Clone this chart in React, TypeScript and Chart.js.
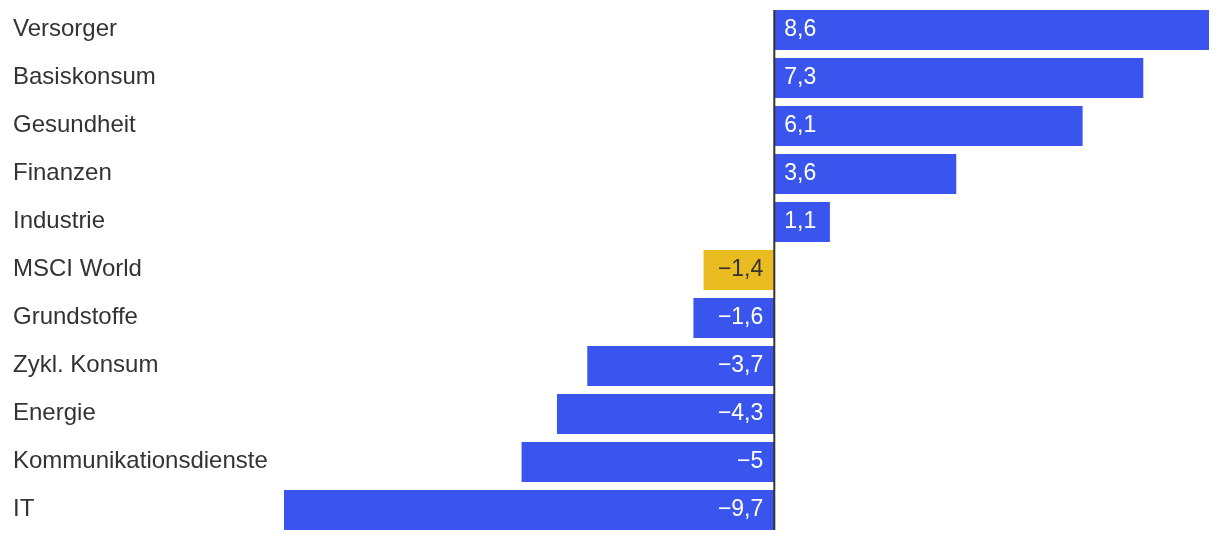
import React, { useEffect, useRef } from "react";
import { Chart, registerables } from "chart.js";

Chart.register(...registerables);

const categories = [
  "Versorger",
  "Basiskonsum",
  "Gesundheit",
  "Finanzen",
  "Industrie",
  "MSCI World",
  "Grundstoffe",
  "Zykl. Konsum",
  "Energie",
  "Kommunikationsdienste",
  "IT",
];
const values = [8.6, 7.3, 6.1, 3.6, 1.1, -1.4, -1.6, -3.7, -4.3, -5, -9.7];
const highlight = "MSCI World";

const BLUE = "#3A54EE";
const YELLOW = "#EBBB22";
const TEXT = "#333333";
const FONT = "'Liberation Sans', Arial, Helvetica, sans-serif";

const fmt = (v: number) => (v < 0 ? "\u2212" : "") + String(Math.abs(v)).replace(".", ",");

const labelsPlugin = {
  id: "labelsPlugin",
  afterDatasetsDraw(chart: any) {
    const ctx = chart.ctx;
    const meta = chart.getDatasetMeta(0);
    const xs = chart.scales.x;
    const zero = xs.getPixelForValue(0);
    ctx.save();
    ctx.textBaseline = "middle";
    // category labels
    ctx.font = `24px ${FONT}`;
    ctx.fillStyle = TEXT;
    ctx.textAlign = "left";
    meta.data.forEach((bar: any, i: number) => {
      ctx.fillText(categories[i], 13, bar.y - 1);
    });
    // value labels
    ctx.font = `23px ${FONT}`;
    meta.data.forEach((bar: any, i: number) => {
      const v = values[i];
      ctx.fillStyle = categories[i] === highlight ? TEXT : "#ffffff";
      if (v >= 0) {
        ctx.textAlign = "left";
        ctx.fillText(fmt(v), zero + 10, bar.y);
      } else {
        ctx.textAlign = "right";
        ctx.fillText(fmt(v), zero - 11, bar.y);
      }
    });
    // zero line
    const first = meta.data[0];
    const last = meta.data[meta.data.length - 1];
    ctx.strokeStyle = TEXT;
    ctx.lineWidth = 2;
    ctx.beginPath();
    ctx.moveTo(zero, first.y - first.height / 2);
    ctx.lineTo(zero, last.y + last.height / 2);
    ctx.stroke();
    ctx.restore();
  },
};

export default function App() {
  const ref = useRef<HTMLCanvasElement>(null);
  useEffect(() => {
    if (!ref.current) return;
    const chart = new Chart(ref.current, {
      type: "bar",
      data: {
        labels: categories,
        datasets: [
          {
            data: values,
            backgroundColor: categories.map((c) => (c === highlight ? YELLOW : BLUE)),
            barPercentage: 40 / 48,
            categoryPercentage: 1,
          },
        ],
      },
      options: {
        indexAxis: "y",
        animation: false,
        responsive: false,
        maintainAspectRatio: false,
        layout: { padding: { left: 284, right: 11, top: 6, bottom: 6 } },
        plugins: {
          legend: { display: false },
          tooltip: { enabled: false },
        },
        scales: {
          x: {
            display: false,
            min: -9.7,
            max: 8.6,
          },
          y: {
            display: false,
          },
        },
      },
      plugins: [labelsPlugin],
    });
    return () => chart.destroy();
  }, []);
  return (
    <div style={{ position: "fixed", left: 0, top: 0, width: 1220, height: 540, background: "#fff" }}>
      <canvas ref={ref} width={1220} height={540} />
    </div>
  );
}
